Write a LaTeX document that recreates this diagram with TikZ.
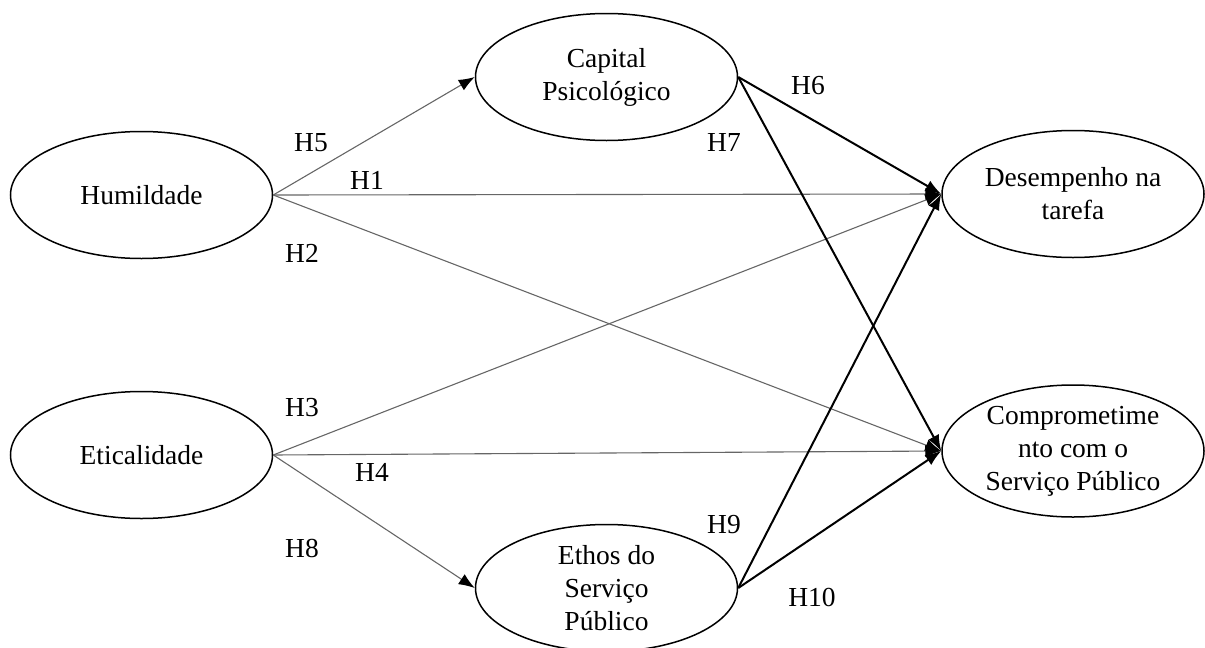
\documentclass[tikz,border=0pt]{standalone}
\usepackage{fontspec}
\setmainfont{Liberation Serif}
\usetikzlibrary{shapes.geometric,arrows.meta}
\begin{document}
\begin{tikzpicture}[x=1pt,y=-1pt,
  var/.style={ellipse,draw=black,line width=1.5pt,minimum width=262pt,minimum height=127pt,inner sep=0pt,align=center,font=\fontsize{27.5}{33}\selectfont},
  lbl/.style={font=\fontsize{27.5}{33}\selectfont,inner sep=0pt},
  thin/.style={draw=black!60,line width=1.1pt,-{Latex[length=16pt,width=12pt,color=black]}},
  thick/.style={draw=black,line width=2pt,-{Latex[length=16pt,width=12pt]}}]
\useasboundingbox (0,0) rectangle (1205,648);
\node[var] (hum) at (141.5,195) {Humildade};
\node[var] (eti) at (141.5,455) {Eticalidade};
\node[var] (cap) at (606.5,77) {Capital\\Psicológico};
\node[var] (eth) at (606.5,588) {Ethos do\\Serviço\\Público};
\node[var] (des) at (1073,194) {Desempenho na\\tarefa};
\node[var,minimum height=132pt] (com) at (1073,451) {Comprometime\\nto com o\\Serviço Público};
\draw[thin] (hum.east) -- (cap.west);
\draw[thin] (hum.east) -- (des.west);
\draw[thin] (hum.east) -- (com.west);
\draw[thin] (eti.east) -- (des.west);
\draw[thin] (eti.east) -- (com.west);
\draw[thin] (eti.east) -- (eth.west);
\draw[thick] (cap.east) -- (des.west);
\draw[thick] (cap.east) -- (com.west);
\draw[thick] (eth.east) -- (des.west);
\draw[thick] (eth.east) -- (com.west);
\node[lbl] (h5) at (311,143) {H5};
\node[lbl] (h1) at (367,180) {H1};
\node[lbl] (h2) at (302,253) {H2};
\node[lbl] (h3) at (302,408) {H3};
\node[lbl] (h4) at (372,472) {H4};
\node[lbl] (h8) at (302,548) {H8};
\node[lbl] (h6) at (808,86) {H6};
\node[lbl] (h7) at (724,142) {H7};
\node[lbl] (h9) at (724,525) {H9};
\node[lbl] (h10) at (812,597) {H10};
\end{tikzpicture}
\end{document}
